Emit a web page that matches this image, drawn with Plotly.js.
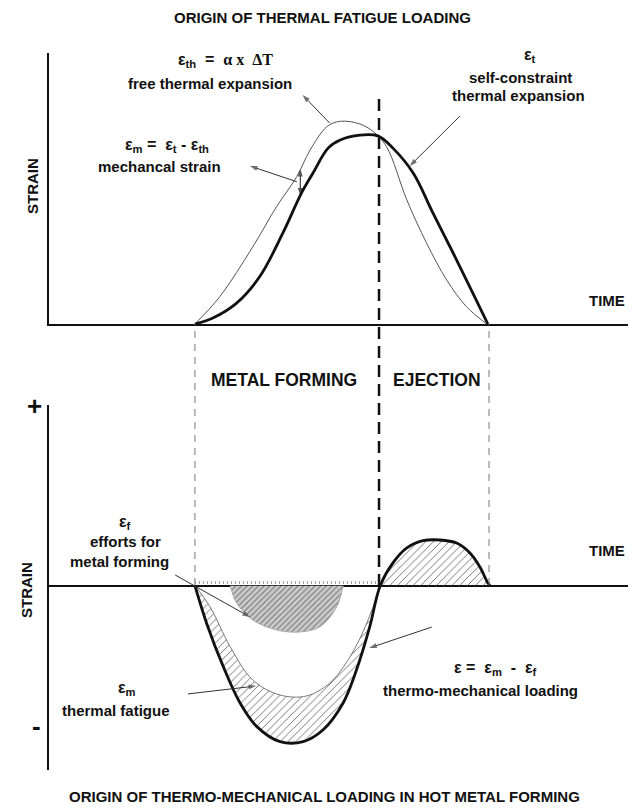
<!DOCTYPE html>
<html><head><meta charset="utf-8">
<script src="https://cdn.plot.ly/plotly-3.0.1.min.js"></script>
<style>html,body{margin:0;padding:0;background:#fff}#chart{width:632px;height:812px}</style>
</head><body><div id="chart"></div>
<script>
// ---------------- DATA (time and strain in arbitrary schematic units) ----------------
// phase boundaries on the time axis: start of metal forming, end of forming / start of ejection, end of ejection
const phaseBoundaries = [2.52, 5.70, 7.60];
const phaseLabels = ["METAL FORMING", "EJECTION"];

// Top panel: free thermal expansion eps_th (thin) and self-constraint thermal expansion eps_t (thick)
const thermalT = [2.52, 2.95, 3.52, 3.93, 4.28, 4.51, 4.80, 5.03, 5.37, 5.60, 5.83, 6.18, 6.52, 6.87, 7.21, 7.56];
const thermalS = [0, 1.01, 2.85, 4.33, 5.44, 6.42, 7.28, 7.48, 7.38, 7.10, 6.54, 4.58, 2.99, 1.62, 0.64, 0];
const totalT = [2.52, 2.83, 3.24, 3.64, 4.04, 4.36, 4.56, 4.82, 5.03, 5.37, 5.68, 5.94, 6.29, 6.63, 6.98, 7.32, 7.58];
const totalS = [0, 0.22, 0.77, 1.75, 3.36, 4.83, 5.57, 6.49, 6.79, 6.97, 6.94, 6.49, 5.57, 4.10, 2.62, 1.14, 0];

// Bottom panel: thermo-mechanical loading eps (thick), negative lobe and positive (ejection) lobe
const loadNegT = [2.52, 2.72, 3.01, 3.30, 3.59, 3.99, 4.39, 4.73, 5.08, 5.31, 5.54, 5.72];
const loadNegS = [0, -2.06, -4.48, -6.49, -7.80, -8.63, -8.63, -7.99, -6.49, -4.67, -2.27, 0];
const loadPosT = [5.72, 5.94, 6.18, 6.46, 6.75, 7.04, 7.27, 7.44, 7.58, 7.62];
const loadPosS = [0, 1.26, 2.09, 2.49, 2.53, 2.36, 1.81, 1.05, 0.15, 0];
// thermal fatigue eps_m (thin)
const fatigueT = [2.52, 2.78, 3.13, 3.52, 3.99, 4.45, 4.85, 5.20, 5.49, 5.72];
const fatigueS = [0, -1.16, -3.38, -5.22, -6.05, -6.10, -5.38, -3.93, -2.06, 0];
// efforts for metal forming eps_f (grey)
const effortT = [3.13, 3.24, 3.52, 3.93, 4.33, 4.68, 4.97, 5.08];
const effortS = [0, -0.96, -1.90, -2.45, -2.56, -2.27, -1.16, 0];

// ---------------- CHART ----------------
const W = 632, H = 812;
const PX = v => v / W, PY = v => 1 - v / H;
const FONT = 'Liberation Sans, Arial, sans-serif';
const INK = '#111';

const hatchMain = {shape: '/', fgcolor: '#666', bgcolor: 'rgba(255,255,255,0)', size: 5.5, solidity: 0.16};

const traces = [
  // top panel
  {x: thermalT, y: thermalS, xaxis: 'x', yaxis: 'y', mode: 'lines', line: {color: '#555', width: 1, shape: 'spline'}, cliponaxis: false},
  {x: totalT, y: totalS, xaxis: 'x', yaxis: 'y', mode: 'lines', line: {color: INK, width: 2.8, shape: 'spline'}, cliponaxis: false},
  // bottom: hatched band between eps_m and eps
  {x: fatigueT.concat(loadNegT.slice().reverse()), y: fatigueS.concat(loadNegS.slice().reverse()),
   xaxis: 'x2', yaxis: 'y2', mode: 'lines', fill: 'toself', fillcolor: 'rgba(255,255,255,0)',
   fillpattern: hatchMain, line: {width: 0, shape: 'spline'}, hoverinfo: 'skip'},
  // ejection hump hatched
  {x: loadPosT, y: loadPosS, xaxis: 'x2', yaxis: 'y2', mode: 'lines', fill: 'toself', fillcolor: 'rgba(255,255,255,0)',
   fillpattern: hatchMain, line: {width: 0, shape: 'spline'}, hoverinfo: 'skip'},
  // eps_f grey region
  {x: effortT, y: effortS, xaxis: 'x2', yaxis: 'y2', mode: 'lines', fill: 'toself', fillcolor: '#c8c8c8',
   fillpattern: {shape: '/', fgcolor: '#808080', bgcolor: '#cdcdcd', size: 4, solidity: 0.3},
   line: {color: '#aaa', width: 1, shape: 'spline'}},
  // eps_m thin
  {x: fatigueT, y: fatigueS, xaxis: 'x2', yaxis: 'y2', mode: 'lines', line: {color: '#777', width: 1, shape: 'spline'}},
  // eps thick
  {x: loadNegT.concat(loadPosT.slice(1)), y: loadNegS.concat(loadPosS.slice(1)), xaxis: 'x2', yaxis: 'y2',
   mode: 'lines', line: {color: INK, width: 2.8, shape: 'spline'}, cliponaxis: false}
];

// pointer arrows (tail -> tip), drawn as small line traces with an arrow marker at the tip
function pointer(ax, ay, tail, tip, color) {
  return {x: [tail[0], tip[0]], y: [tail[1], tip[1]], xaxis: ax, yaxis: ay, mode: 'lines+markers',
    line: {color: color || '#333', width: 1}, cliponaxis: false, hoverinfo: 'skip',
    marker: {symbol: ['circle', 'arrow'], size: [0, 8], angleref: 'previous', color: color || '#333', line: {width: 0}}};
}
traces.push(
  pointer('x', 'y', [4.85, 7.41], [4.38, 8.45]),
  pointer('x', 'y', [7.10, 7.68], [6.23, 5.83]),
  pointer('x', 'y', [4.28, 5.25], [3.47, 5.83]),
  pointer('x', 'y', [4.34, 5.22], [4.34, 5.72], INK),
  pointer('x', 'y', [4.34, 5.22], [4.34, 4.74], INK),
  pointer('x2', 'y2', [2.18, 0.59], [3.47, -1.73]),
  pointer('x2', 'y2', [2.40, -5.99], [3.58, -5.55]),
  pointer('x2', 'y2', [6.61, -2.29], [5.53, -3.45])
);

function label(text, x, y, size, extra) {
  return Object.assign({xref: 'paper', yref: 'paper', x: PX(x), y: PY(y), text: text, showarrow: false,
    xanchor: 'center', yanchor: 'middle', font: {family: FONT, size: size, color: INK, weight: 700}}, extra || {});
}
const SERIF = '<span style="font-family:Liberation Serif, Times New Roman, serif">';

const annotations = [
  label('ORIGIN OF THERMAL FATIGUE LOADING', 322, 17, 15),
  label('ORIGIN OF THERMO-MECHANICAL LOADING IN HOT METAL FORMING', 324, 796, 15),
  label('ε<sub>th</sub>  =  ' + SERIF + 'α x  ΔT</span>', 225, 60, 16),
  label('free thermal expansion', 210, 84, 15),
  label('ε<sub>t</sub>', 530, 55, 16),
  label('self-constraint', 520, 77, 15),
  label('thermal expansion', 518, 96, 15),
  label('ε<sub>m</sub> =  ε<sub>t</sub> - ε<sub>th</sub>', 167, 145, 16),
  label('mechancal strain', 159, 166, 15),
  label('STRAIN', 32, 186, 15, {textangle: -90}),
  label('TIME', 607, 300, 15),
  label(phaseLabels[0], 284, 380, 17.5),
  label(phaseLabels[1], 437, 380, 17.5),
  label('+', 34, 406, 26),
  label('-', 36, 726, 26),
  label('STRAIN', 26, 590, 15, {textangle: -90}),
  label('TIME', 607, 550, 15),
  label('ε<sub>f</sub>', 125, 522, 16),
  label('efforts for', 125, 541, 15),
  label('metal forming', 119, 561, 15),
  label('ε<sub>m</sub>', 127, 688, 16),
  label('thermal fatigue', 116, 710, 15),
  label('ε =  ε<sub>m</sub>  -  ε<sub>f</sub>', 495, 668, 16),
  label('thermo-mechanical loading', 480, 690, 15)
];

const shapes = [
  // heavy dashed boundary forming / ejection spanning both panels
  {type: 'line', xref: 'x', yref: 'paper', x0: phaseBoundaries[1], x1: phaseBoundaries[1], y0: PY(586), y1: PY(95),
   line: {color: INK, width: 2.5, dash: '12px,7px'}},
  {type: 'line', xref: 'x', yref: 'paper', x0: phaseBoundaries[0], x1: phaseBoundaries[0], y0: PY(585), y1: PY(323),
   line: {color: '#777', width: 1, dash: '7px,6px'}},
  {type: 'line', xref: 'x', yref: 'paper', x0: phaseBoundaries[2], x1: phaseBoundaries[2], y0: PY(585), y1: PY(323),
   line: {color: '#777', width: 1, dash: '7px,6px'}},
  // light hatched strip along the axis during forming
  {type: 'line', xref: 'x2', yref: 'y2', x0: phaseBoundaries[0], x1: phaseBoundaries[1], y0: 0.18, y1: 0.18,
   line: {color: '#999', width: 3, dash: '1px,3px'}}
];

const axBase = {showgrid: false, zeroline: false, showticklabels: false, ticks: '', fixedrange: true, range: [0, 10]};
const layout = {
  width: W, height: H, margin: {l: 0, r: 0, t: 0, b: 0},
  paper_bgcolor: '#fff', plot_bgcolor: 'rgba(0,0,0,0)', showlegend: false,
  xaxis: Object.assign({}, axBase, {domain: [PX(49), PX(628)], anchor: 'y', showline: true, linecolor: INK, linewidth: 2}),
  yaxis: Object.assign({}, axBase, {domain: [PY(324), PY(53)], anchor: 'x', showline: true, linecolor: INK, linewidth: 2}),
  xaxis2: Object.assign({}, axBase, {domain: [PX(49), PX(628)], anchor: 'y2', showline: false}),
  yaxis2: Object.assign({}, axBase, {domain: [PY(770), PY(405)], anchor: 'x2', range: [-10.2, 10], showline: true,
    linecolor: INK, linewidth: 2, zeroline: true, zerolinecolor: INK, zerolinewidth: 2}),
  annotations: annotations, shapes: shapes
};

Plotly.newPlot('chart', traces, layout, {staticPlot: true, displayModeBar: false});
</script>
</body></html>
